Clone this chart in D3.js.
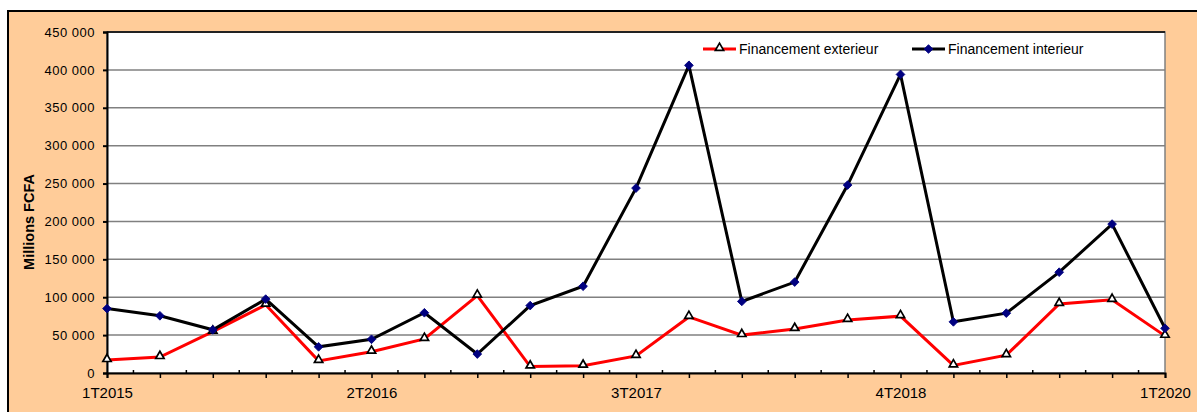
<!DOCTYPE html>
<html>
<head>
<meta charset="utf-8">
<script src="https://cdn.jsdelivr.net/npm/d3@7"></script>
<style>
  body { margin: 0; background: #fff; }
  svg { display: block; font-family: Arial, "Liberation Sans", sans-serif; }
</style>
</head>
<body>
<svg id="chart" width="1197" height="412"></svg>
<script>
// quarters 1T2015 .. 1T2020
const quarters = ["1T2015","2T2015","3T2015","4T2015","1T2016","2T2016","3T2016","4T2016",
  "1T2017","2T2017","3T2017","4T2017","1T2018","2T2018","3T2018","4T2018",
  "1T2019","2T2019","3T2019","4T2019","1T2020"];
const shownLabels = ["1T2015","2T2016","3T2017","4T2018","1T2020"];
const yTicks = [0,50000,100000,150000,200000,250000,300000,350000,400000,450000];

const finExterieur = [17000,21000,54500,90000,16000,28000,45000,102000,8500,9500,
  22500,74000,50000,58000,70000,75000,10000,23500,91000,96500,49000];
const finInterieur = [85000,75500,57000,97500,34500,44500,79500,25000,89000,114500,
  244000,406000,94500,120000,248000,394000,67500,79000,133000,196500,59000];

const series = [
  {name: "Financement exterieur", values: finExterieur, color: "#ff0000", marker: "triangle"},
  {name: "Financement interieur", values: finInterieur, color: "#000000", marker: "diamond"}
];

const svg = d3.select("#chart");
const pLeft = 107, pRight = 1165, pTop = 32, pBottom = 373;

// background frame
svg.append("rect").attr("x", 8).attr("y", 11).attr("width", 1197).attr("height", 412)
  .attr("fill", "#ffcc99").attr("stroke", "#000").attr("stroke-width", 2);
svg.append("rect").attr("x", pLeft).attr("y", pTop).attr("width", pRight - pLeft).attr("height", pBottom - pTop)
  .attr("fill", "#fff").attr("stroke", "#808080").attr("stroke-width", 1.5);

let x = d3.scalePoint().domain(quarters).range([pLeft, pRight]);
let y = d3.scaleLinear().domain([0, 450000]).range([pBottom, pTop]);

const fr = d3.formatLocale({decimal: ",", thousands: " ", grouping: [3], currency: ["", ""]});
const fmt = fr.format(",d");

// gridlines
svg.append("g").selectAll("line")
  .data(yTicks.slice(1))
  .enter().append("line")
  .attr("x1", pLeft).attr("x2", pRight)
  .attr("y1", d => y(d)).attr("y2", d => y(d))
  .attr("stroke", d => d === 450000 ? "#222" : "#808080")
  .attr("stroke-width", d => d === 450000 ? 2 : 1.5);

// y axis
let yAxis = svg.append("g").attr("transform", `translate(${pLeft},0)`)
  .call(d3.axisLeft(y).tickValues(yTicks).tickSize(4).tickPadding(8).tickFormat(fmt));
yAxis.select(".domain").attr("stroke", "#000").attr("stroke-width", 2);
yAxis.selectAll(".tick line").attr("stroke", "#000").attr("stroke-width", 2);
yAxis.selectAll("text").attr("font-size", 13).attr("letter-spacing", 0.5).attr("fill", "#000")
  .attr("font-family", "Arial, 'Liberation Sans', sans-serif");

// x axis
let xAxis = svg.append("g").attr("transform", `translate(0,${pBottom})`)
  .call(d3.axisBottom(x).tickSize(5).tickPadding(9)
    .tickFormat(d => shownLabels.includes(d) ? d : ""));
xAxis.select(".domain").attr("stroke", "#000").attr("stroke-width", 2);
xAxis.selectAll(".tick line").attr("stroke", "#000").attr("stroke-width", 1.5);
xAxis.selectAll("text").attr("font-size", 15).attr("fill", "#000")
  .attr("font-family", "Arial, 'Liberation Sans', sans-serif");

// minor ticks between quarters
svg.append("g").selectAll("line")
  .data(quarters.slice(1))
  .enter().append("line")
  .attr("x1", d => x(d) - x.step() / 2).attr("x2", d => x(d) - x.step() / 2)
  .attr("y1", pBottom).attr("y2", pBottom - 3)
  .attr("stroke", "#000").attr("stroke-width", 1.5);

// y title
svg.append("text")
  .attr("transform", "translate(34,222) rotate(-90)")
  .attr("text-anchor", "middle")
  .attr("font-size", 14.5).attr("font-weight", "bold")
  .text("Millions FCFA");

const triangle = d3.symbol().type(d3.symbolTriangle).size(30);
const square = d3.symbol().type(d3.symbolSquare).size(38);

function drawMarker(g, s) {
  if (s.marker === "triangle") {
    g.append("path").attr("d", triangle()).attr("fill", "#fff")
      .attr("stroke", "#000").attr("stroke-width", 1.7)
      .attr("transform", "translate(0,-1)");
  } else {
    g.append("path").attr("d", square()).attr("fill", "#000080").attr("stroke", "#000080")
      .attr("stroke-width", 0.8).attr("transform", "rotate(45)");
  }
}

let line = d3.line().x((d, i) => x(quarters[i])).y(d => y(d));

series.forEach(s => {
  svg.append("path").datum(s.values)
    .attr("d", line)
    .attr("fill", "none")
    .attr("stroke", s.color)
    .attr("stroke-width", 3)
    .attr("stroke-linejoin", "miter");
});
series.forEach(s => {
  svg.append("g").selectAll("g")
    .data(s.values)
    .enter().append("g")
    .attr("transform", (d, i) => `translate(${x(quarters[i])},${y(d)})`)
    .each(function() { drawMarker(d3.select(this), s); });
});

// legend
const legendPos = [703, 912];
series.forEach((s, i) => {
  let g = svg.append("g").attr("transform", `translate(${legendPos[i]},49)`);
  g.append("line").attr("x1", 0).attr("x2", 33).attr("stroke", s.color).attr("stroke-width", 3);
  let m = g.append("g").attr("transform", "translate(16.5,0)");
  drawMarker(m, s);
  g.append("text").attr("x", 36).attr("y", 5).attr("font-size", 14).text(s.name);
});
</script>
</body>
</html>
